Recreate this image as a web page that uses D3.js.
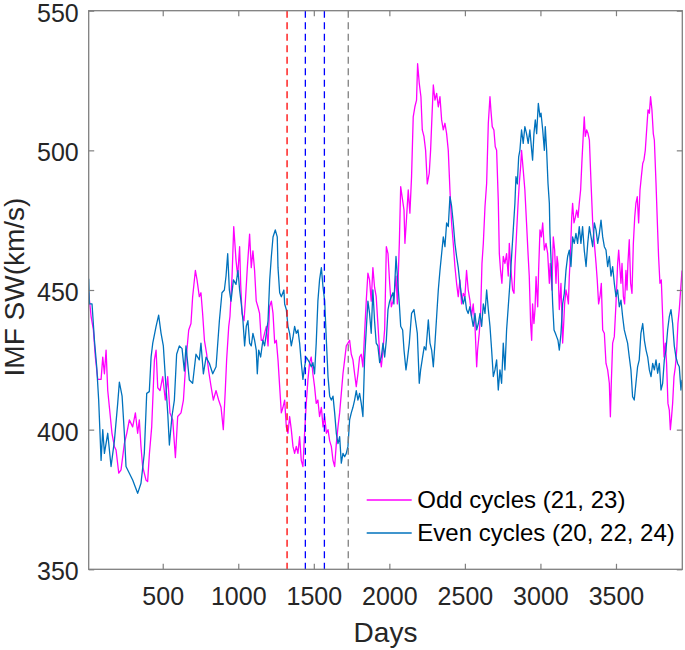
<!DOCTYPE html>
<html>
<head>
<meta charset="utf-8">
<script src="https://cdn.jsdelivr.net/npm/d3@7"></script>
<style>
  html, body { margin: 0; padding: 0; background: #fff; }
  svg { display: block; }
  text { font-family: "Liberation Sans", Arial, Helvetica, sans-serif; }
</style>
</head>
<body>
<svg id="chart" width="685" height="650"></svg>
<script>
// ---------------- DATA ----------------
const xTicks = [500, 1000, 1500, 2000, 2500, 3000, 3500];
const yTicks = [350, 400, 450, 500, 550];

const markerDays   = [1323, 1444, 1570, 1728];
const markerColors = ["#ff0000", "#0000ff", "#0000ff", "#7f7f7f"];

const seriesNames = ["Odd cycles (21, 23)", "Even cycles (20, 22, 24)"];

const oddDays = [10,26,41,54,70,92,103,114,125,136,147,164,180,191,209,224,246,262,279,301,319,334,345,356,367,389,400,412,427,445,456,467,482,500,517,533,548,566,584,599,621,637,654,672,687,698,716,727,742,753,764,776,791,804,820,835,853,870,886,901,914,923,937,945,959,970,985,996,1009,1016,1025,1038,1047,1060,1075,1086,1097,1108,1119,1130,1141,1152,1163,1174,1186,1197,1207,1219,1230,1241,1252,1263,1274,1285,1296,1307,1318,1329,1340,1351,1362,1373,1384,1395,1406,1417,1428,1439,1450,1461,1472,1483,1494,1505,1516,1527,1538,1550,1561,1572,1583,1594,1605,1616,1627,1638,1649,1660,1671,1682,1693,1704,1715,1726,1737,1748,1759,1770,1781,1792,1803,1814,1825,1836,1847,1858,1869,1880,1891,1902,1913,1924,1936,1947,1958,1969,1980,1991,2002,2013,2024,2031,2044,2053,2066,2075,2088,2097,2103,2114,2125,2136,2147,2158,2169,2180,2187,2198,2209,2218,2229,2240,2251,2264,2273,2282,2291,2302,2313,2324,2335,2346,2357,2368,2379,2390,2401,2412,2423,2434,2445,2456,2467,2478,2489,2500,2511,2522,2533,2544,2555,2567,2578,2584,2595,2604,2613,2622,2633,2644,2655,2666,2672,2681,2692,2701,2710,2721,2728,2736,2745,2754,2765,2776,2787,2794,2803,2816,2825,2831,2842,2851,2860,2869,2875,2886,2897,2908,2919,2926,2935,2942,2948,2957,2964,2971,2982,2988,2997,3006,3015,3026,3037,3048,3059,3065,3076,3085,3094,3103,3110,3116,3125,3136,3147,3154,3160,3169,3178,3185,3191,3198,3207,3213,3222,3231,3240,3249,3257,3266,3275,3284,3290,3297,3306,3315,3324,3335,3346,3357,3368,3376,3385,3394,3403,3412,3423,3434,3445,3456,3463,3469,3478,3489,3500,3511,3518,3527,3533,3540,3549,3557,3566,3573,3579,3588,3597,3606,3615,3624,3632,3641,3650,3659,3668,3677,3685,3694,3703,3712,3721,3729,3738,3747,3754,3765,3774,3782,3791,3800,3809,3818,3827,3835,3844,3853,3860,3868,3875,3884,3893,3902,3910,3919,3928,3937];
const oddValues = [449,440.5,435.7,426,418,418,426,420,428.5,414,408,398.7,394,392.7,384.4,385.6,395,398.7,403.5,401,406,398.7,403.5,394,386.8,382,381.4,391.5,401,425,428.5,415,414,419,410.6,419,406,403.5,390,404.7,406,410.6,425,435.7,438,447.6,457,453.6,447.6,449,441.6,432,427,421,415.4,410.6,414,410.6,408,400,414,425,437,440.5,455,472.7,460.7,455,465.5,452,441.6,439,446,458,470,458,464,457,446,444,441.6,432,432,434.5,437,430,444,446,441.6,431,432,425,415.4,406,408,410.6,401,398.7,404.7,400,394,391.5,394,391.5,397.5,389,386.8,398.7,409.4,417.8,424,426,420,415.4,409.4,410.6,404.7,408,401,404.7,398.7,400,396,394,389,386.8,395,401,406,413,420,425,430,431,432,427,425,420,415.4,420,426,427,422.5,434.5,446,456,453.6,446,458,451,447.6,438,427,422.5,428.5,436,465.5,463,452.4,444,446,447.6,455,445,466.7,487,482,478.6,466.7,476,485.8,477.5,490.6,512,515.6,518,531,524,519.2,507.3,505,500,488,491.8,500,512,523.4,518,520.4,515.6,519.2,510.9,507.3,509.7,506,500,485.8,474,466.7,458.4,452.4,447.6,453.6,445,448.8,447.6,457,450,446.4,440.5,445,437,422.5,428.5,434.5,441.6,459.5,466.7,479.8,488.2,509.7,519.2,514.5,508.5,507.3,501.3,500,482,463,457,452.4,462,459.5,463,455,466.7,458.4,450,448.8,458.4,470.3,480,488.2,494.2,500,493,485.8,474,462,455,438,432,445,438,443,454.8,444,457,471.5,469,474,464.3,466.7,463,452.4,459.5,450,469,464.3,452.4,462,459.5,443,452.4,431,438,445,450,447.6,445,454.8,462,476,481,474,476,478.6,476,481,485.8,496.5,506,512,505,507.3,506,503.7,488.2,474,466.7,459.5,453.6,445,447.6,452.4,435.7,434.5,423.7,421.4,416.6,404.6,416.6,431,433.3,445,459.5,464.3,457,452.4,459.5,447.6,445,457,450,459.5,468,452.4,448.8,466.7,476,481,483.4,474,485.8,490.6,495.3,496.5,500,507.3,514.5,513.3,519.2,514.5,506,503.7,488.2,474,462,452.4,453.6,440.5,426,431,423.7,409.4,407,400,404.6,409.4,419,422.5,428.5,438,443,450,457];

const evenDays = [10,15,32,48,63,76,92,103,114,136,158,180,202,213,231,246,257,279,301,334,356,378,394,411,423,434,456,473,489,504,517,533,544,561,577,592,610,628,643,654,676,698,720,742,753,769,787,809,831,853,875,892,908,919,930,941,952,968,985,998,1009,1020,1031,1042,1053,1064,1075,1086,1097,1108,1119,1126,1135,1148,1163,1174,1186,1197,1208,1219,1230,1245,1258,1263,1274,1285,1302,1307,1318,1329,1340,1351,1362,1373,1384,1395,1406,1417,1428,1439,1450,1461,1472,1483,1494,1505,1516,1527,1538,1550,1561,1572,1583,1594,1605,1616,1627,1638,1649,1660,1671,1682,1693,1704,1715,1726,1737,1748,1759,1770,1781,1792,1803,1814,1825,1836,1847,1858,1869,1880,1891,1902,1913,1924,1936,1947,1958,1969,1980,1991,2002,2013,2024,2030,2044,2053,2066,2075,2088,2097,2110,2119,2132,2147,2163,2176,2185,2198,2207,2220,2231,2242,2251,2258,2269,2280,2291,2302,2313,2324,2335,2346,2357,2368,2379,2390,2401,2412,2423,2434,2445,2456,2467,2478,2489,2500,2511,2522,2533,2544,2555,2567,2578,2589,2600,2611,2622,2633,2644,2655,2666,2677,2688,2699,2710,2721,2732,2743,2754,2765,2776,2787,2798,2809,2820,2831,2838,2847,2856,2864,2875,2886,2897,2908,2919,2930,2942,2948,2957,2966,2975,2986,2997,3004,3015,3026,3032,3041,3050,3059,3063,3072,3081,3090,3099,3107,3116,3125,3136,3147,3158,3169,3180,3191,3202,3213,3224,3235,3246,3257,3268,3279,3290,3302,3313,3324,3335,3346,3357,3368,3379,3390,3401,3412,3423,3434,3445,3456,3467,3478,3489,3500,3511,3522,3533,3544,3555,3566,3577,3588,3599,3610,3621,3632,3643,3654,3665,3677,3688,3699,3710,3721,3732,3743,3754,3765,3776,3787,3798,3809,3820,3831,3842,3853,3864,3875,3886,3897,3908,3919,3930,3937];
const evenValues = [454,445,445,432,422.5,410.6,389,400,391.5,398.7,386.8,396,409.4,417,412,398.7,386.8,384.4,382,377.2,380.8,391.5,413,413.6,426,431,437,441,434.5,430,419,406,394.5,404.7,410.6,427,430,429,421,430,417.8,416.6,427,425,431,420,426,423.7,420,422.5,439,449,450,455,463,450,446,453.6,452,457,450,445,439,430,437,439,431,430,434.5,432,428.5,420,428.5,426,432,430,434.5,439,453.6,462,469,471.5,469,458,449,447.6,450,445,443,437,434.5,430,433,437,434.5,435.7,431,424,418,422.5,426,425,424,422.5,424,420,431,446,453.6,458,451,446,432,419,412,410.6,412,406,398.7,395,397.5,388,391.5,390.3,391.5,394,403.5,406,408,410.6,414,410.6,413,409.4,404.7,425,435.7,446,441.6,434.5,450,439,431,430,424,426,431,426,432,443,446,447.6,449,445,462,455,445,437,435.7,428.5,421.4,425,431,441.6,443,438,434.5,416.6,421.4,426,429.7,428.5,434.5,439.3,431,428.5,422.5,431,440.5,450,457,463,469,465.5,474,472.7,483.4,480,474,466.7,462,458,452.4,447.6,445,447.6,443,441.6,444,440.5,437,441.6,435.7,438,441.6,437,445,441.6,450,443,437,428.5,419,421.4,425,414.2,421.4,416.6,431,421.4,435.7,444,452.4,462,471.5,481,490.6,488,497.7,500,507.3,502.5,508.5,506,502.5,507.3,500,496.5,506,510.9,506,516.8,512,513.3,507.3,500,508.5,500,488.2,481,470.3,458.4,445,435.7,434.5,433.3,432,428.5,434.5,445,448.8,457,462,464.3,458.4,469,466.7,470.3,466.7,472.7,466.7,472.7,464.3,458.4,466.7,472.7,469,465.5,474,471.5,466.7,470.3,475,469,465.5,464.3,458.4,462,455,458.4,452.4,447.6,450,444,446.4,440.5,435.7,433.3,431,426,421.4,411.8,410.6,416.6,422.5,425,434.5,438,432,428.5,426,421.4,419,423.7,421.4,425,420.2,423.7,414.2,416.6,425,428.5,435.7,440.5,443,438,430,426,423.7,422.5,414.2,417.8];

// ---------------- LAYOUT ----------------
const plot = { left: 88.7, right: 682.3, top: 10.7, bottom: 569.3 };
const frameColor = "#7f7f7f";
const textColor = "#262626";
const oddColor = "#ff00ff";
const evenColor = "#0072bd";

const svg = d3.select("#chart");

const x = d3.scaleLinear().domain([10, 3939]).range([plot.left, plot.right]);
const y = d3.scaleLinear().domain([350, 550]).range([plot.bottom, plot.top]);

const clip = svg.append("defs").append("clipPath").attr("id", "clip")
  .append("rect")
  .attr("x", plot.left).attr("y", plot.top)
  .attr("width", plot.right - plot.left).attr("height", plot.bottom - plot.top);

// Series
const line = d3.line().x(d => x(d[0])).y(d => y(d[1]));
const oddData = oddDays.map((d, i) => [d, oddValues[i]]);
const evenData = evenDays.map((d, i) => [d, evenValues[i]]);

const g = svg.append("g").attr("clip-path", "url(#clip)");
g.append("path").datum(oddData).attr("d", line)
  .attr("fill", "none").attr("stroke", oddColor).attr("stroke-width", 1.3)
  .attr("stroke-linejoin", "round");
g.append("path").datum(evenData).attr("d", line)
  .attr("fill", "none").attr("stroke", evenColor).attr("stroke-width", 1.3)
  .attr("stroke-linejoin", "round");

// Vertical dashed markers
g.selectAll("line.marker").data(markerDays).enter().append("line")
  .attr("class", "marker")
  .attr("x1", d => x(d)).attr("x2", d => x(d))
  .attr("y1", plot.top).attr("y2", plot.bottom)
  .attr("stroke", (d, i) => markerColors[i])
  .attr("stroke-width", 1.3)
  .attr("stroke-dasharray", "7,4.5");

// Axes
const tick = 5.5;
const fontSize = 25;

const xAxis = svg.append("g").attr("transform", `translate(0,${plot.bottom})`)
  .call(d3.axisBottom(x).tickValues(xTicks).tickSize(-tick).tickPadding(18).tickFormat(d3.format("d")));
const xTop = svg.append("g").attr("transform", `translate(0,${plot.top})`)
  .call(d3.axisTop(x).tickValues(xTicks).tickSize(-tick).tickFormat(""));
const yAxis = svg.append("g").attr("transform", `translate(${plot.left},0)`)
  .call(d3.axisLeft(y).tickValues(yTicks).tickSize(-tick).tickPadding(10).tickFormat(d3.format("d")));
const yRight = svg.append("g").attr("transform", `translate(${plot.right},0)`)
  .call(d3.axisRight(y).tickValues(yTicks).tickSize(-tick).tickFormat(""));

[xAxis, xTop, yAxis, yRight].forEach(a => {
  a.select(".domain").remove();
  a.selectAll(".tick line").attr("stroke", frameColor).attr("stroke-width", 1.2);
  a.selectAll(".tick text")
    .attr("fill", textColor)
    .style("font-size", fontSize + "px")
    .style("font-family", '"Liberation Sans", Arial, sans-serif');
});
yAxis.selectAll(".tick text").attr("dy", "0.42em");

// Frame
svg.append("rect")
  .attr("x", plot.left).attr("y", plot.top)
  .attr("width", plot.right - plot.left).attr("height", plot.bottom - plot.top)
  .attr("fill", "none").attr("stroke", frameColor).attr("stroke-width", 1.3);

// Axis titles
svg.append("text")
  .attr("x", (plot.left + plot.right) / 2).attr("y", 642)
  .attr("text-anchor", "middle")
  .attr("fill", textColor)
  .style("font-size", "28px")
  .text("Days");

svg.append("text")
  .attr("transform", `translate(23.5,${(plot.top + plot.bottom) / 2 - 3}) rotate(-90)`)
  .attr("text-anchor", "middle")
  .attr("fill", textColor)
  .style("font-size", "28px")
  .text("IMF SW(km/s)");

// Legend
const legend = svg.append("g");
const legendRows = [
  { name: seriesNames[0], color: oddColor, y: 500 },
  { name: seriesNames[1], color: evenColor, y: 533 }
];
legendRows.forEach(r => {
  legend.append("line")
    .attr("x1", 366.7).attr("x2", 411.7)
    .attr("y1", r.y).attr("y2", r.y)
    .attr("stroke", r.color).attr("stroke-width", 1.3);
  legend.append("text")
    .attr("x", 417.3).attr("y", r.y + 7.5)
    .attr("fill", "#000")
    .style("font-size", "24px")
    .text(r.name);
});
</script>
</body>
</html>
